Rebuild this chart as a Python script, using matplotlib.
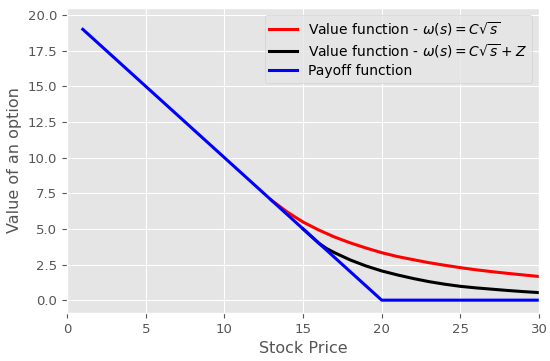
import matplotlib
matplotlib.use("Agg")
import matplotlib.pyplot as plt

plt.style.use("ggplot")

# Payoff function (put with strike 20)
payoff_s = [1, 20, 30]
payoff_v = [19, 0, 0]

# Value function - omega(s) = C sqrt(s)
red_s = [13, 14, 15, 16, 17, 18, 19, 20, 21, 22, 23, 24, 25, 26, 27, 28, 29, 30]
red_v = [7.0, 6.18, 5.48, 4.92, 4.43, 4.02, 3.66, 3.33, 3.06, 2.84, 2.63, 2.45,
         2.28, 2.13, 2.00, 1.88, 1.77, 1.66]

# Value function - omega(s) = C sqrt(s) + Z
black_s = [15, 16, 16.5, 17, 18, 19, 20, 21, 22, 23, 24, 25, 26, 27, 28, 29, 30]
black_v = [5.0, 4.0, 3.62, 3.33, 2.82, 2.40, 2.05, 1.77, 1.52, 1.30, 1.12, 0.97,
           0.86, 0.77, 0.68, 0.60, 0.53]

fig = plt.figure(figsize=(5.5, 3.61), dpi=100)
ax = fig.add_axes([0.122, 0.133, 0.858, 0.845])

ax.plot(red_s, red_v, color="red", linewidth=2.2, label=r"Value function - $\omega(s) = C\sqrt{s}$")
ax.plot(black_s, black_v, color="black", linewidth=2.2, label=r"Value function - $\omega(s) = C\sqrt{s} + Z$")
ax.plot(payoff_s, payoff_v, color="blue", linewidth=2.2, label="Payoff function")

ax.set_xlim(0, 30)
ax.set_ylim(-0.9, 20.5)
ax.set_yticks([0, 2.5, 5, 7.5, 10, 12.5, 15, 17.5, 20])
ax.set_yticklabels(["0.0", "2.5", "5.0", "7.5", "10.0", "12.5", "15.0", "17.5", "20.0"])
ax.tick_params(labelsize=9.5)

ax.set_xlabel("Stock Price", fontsize=11.5)
ax.set_ylabel("Value of an option", fontsize=11.5)
ax.legend(loc="upper right", fontsize=10, labelspacing=0.3, borderpad=0.35)

fig.savefig("out.png", dpi=100)
